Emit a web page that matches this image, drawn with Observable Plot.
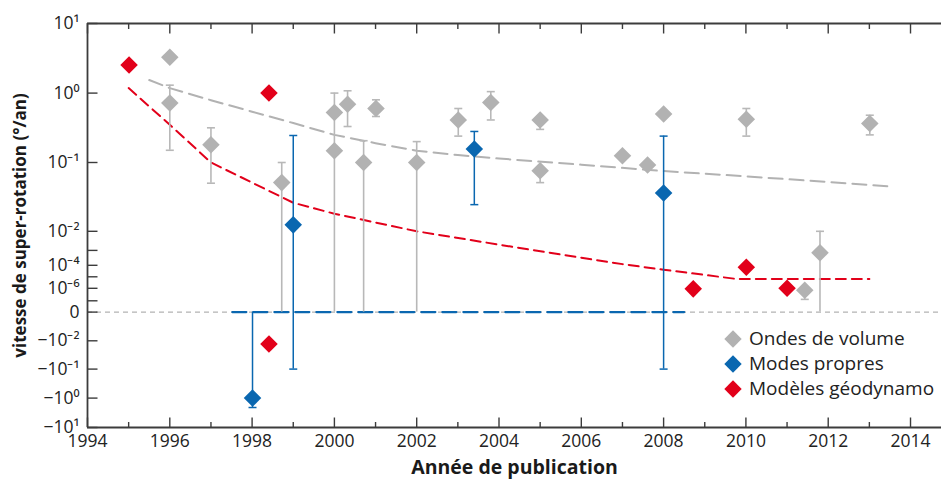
<!DOCTYPE html>
<html>
<head>
<meta charset="utf-8">
<script src="https://cdn.jsdelivr.net/npm/d3@7"></script>
<script src="https://cdn.jsdelivr.net/npm/@observablehq/plot@0.6"></script>
<style>
  body { margin: 0; background: #fff; font-family: "Open Sans", sans-serif; }
  #wrap { position: relative; width: 941px; height: 480px; }
  #legend { position: absolute; left: 723px; top: 326px; font-size: 19px; color: #222; line-height: 25px; }
  #legend .row { display: flex; align-items: center; height: 25px; white-space: nowrap; }
  #legend svg { margin-right: 6px; flex: none; }
</style>
</head>
<body>
<div id="wrap"><div id="legend"></div></div>
<script>
// ---------------- data ----------------
// Ondes de volume (body waves)
const ondesYear  = [1996.0, 1996.0, 1997.0, 1998.72, 2000.0, 2000.0, 2000.32, 2000.71, 2001.01, 2002.0, 2003.01, 2003.8, 2005.0, 2005.0, 2007.0, 2007.61, 2008.0, 2010.01, 2011.43, 2011.8, 2013.01];
const ondesValue = [3.27,   0.72,   0.18,   0.051,   0.525,  0.148,  0.69,    0.10,    0.60,    0.10,   0.41,    0.73,   0.41,   0.076,  0.125,  0.092,   0.50,   0.42,    7e-7,    6.9e-4, 0.365];
const ondesLow   = [null,   0.15,   0.05,   0,       null,   0,      0.33,    0,       0.46,    0,      0.24,    0.41,   0.30,   0.051,  null,   null,    null,   0.24,    1.3e-7,  0,      0.25];
const ondesHigh  = [null,   1.30,   0.316,  0.10,    null,   1.0,    1.08,    0.206,   0.80,    0.20,   0.60,    1.05,   0.41,   0.076,  null,   null,    null,   0.60,    7e-7,    0.01,   0.48];

// Modes propres (normal modes)
const modesYear  = [1998.01, 1999.0, 2003.4, 2008.0];
const modesValue = [-1.0,    0.0124, 0.156,  0.036];
const modesLow   = [-2.09,   -0.1,   0.0244, -0.1];
const modesHigh  = [0,       0.245,  0.28,   0.24];
const modesZeroYears = [1997.52, 2008.5];

// Modèles géodynamo
const geoYear  = [1995.01, 1998.41, 1998.41, 2008.72, 2010.01, 2011.0];
const geoValue = [2.54,    1.0,     -0.013,  9e-7,    6.8e-5,  1e-6];

// trend curves (dashed)
const ondesTrendYear  = [1995.5, 1996, 1997, 1998, 1999, 2000, 2001, 2002, 2003, 2004, 2006, 2008, 2010, 2012, 2013.5];
const ondesTrendValue = [1.54, 1.18, 0.79, 0.54, 0.37, 0.25, 0.19, 0.148, 0.128, 0.114, 0.093, 0.075, 0.063, 0.052, 0.045];
const geoTrendYear  = [1995, 1996, 1997, 1998, 1999, 2000, 2002, 2004, 2006, 2007, 2008, 2009.8, 2013];
const geoTrendValue = [1.18, 0.35, 0.10, 0.051, 0.026, 0.018, 0.01, 2.0e-3, 3.2e-4, 1.2e-4, 4.1e-5, 6.3e-6, 6.3e-6];

// axis ticks
const xMajorTicks = [1994, 1996, 1998, 2000, 2002, 2004, 2006, 2008, 2010, 2012, 2014];
const xMinorTicks = [1995, 1997, 1999, 2001, 2003, 2005, 2007, 2009, 2011, 2013];
const yTickValues = [10, 1, 0.1, 0.01, 1e-4, 1e-6, 0, -0.01, -0.1, -1, -10];
const yTickLabels = ["10¹", "10⁰", "10⁻¹", "10⁻²", "10⁻⁴", "10⁻⁶", "0", "−10⁻²", "−10⁻¹", "−10⁰", "−10¹"];
const yExtraTicks = [1e-3, 1e-5, 1e-7];

const seriesNames = ["Ondes de volume", "Modes propres", "Modèles géodynamo"];
const seriesColors = ["#b2b2b2", "#0a67b0", "#e2001a"];

// ---------------- broken symmetric-log y scale ----------------
// break values of the axis and their relative heights (scale definition)
const yBreakValues  = [-10, -1, -0.1, -0.01, 0, 1e-7, 1e-6, 1e-5, 1e-4, 1e-3, 1e-2, 0.1, 1, 10];
const yBreakHeights = [0, 29.4, 58.4, 86.7, 115.4, 126.7, 139.2, 150.7, 162.2, 177.1, 196.2, 265, 334.4, 404];
function warp(v) {
  const b = yBreakValues, h = yBreakHeights;
  if (v <= b[0]) return h[0];
  if (v >= b[b.length - 1]) return h[h.length - 1];
  for (let i = 0; i < b.length - 1; i++) {
    const a = b[i], c = b[i + 1];
    if (v >= a && v <= c) {
      let t;
      if (a > 0) t = (Math.log10(v) - Math.log10(a)) / (Math.log10(c) - Math.log10(a));
      else if (c < 0) t = (Math.log10(-v) - Math.log10(-a)) / (Math.log10(-c) - Math.log10(-a));
      else t = (v - a) / (c - a);
      return h[i] + t * (h[i + 1] - h[i]);
    }
  }
}

// ---------------- tables ----------------
const ondes = ondesYear.map((x, i) => ({x, v: ondesValue[i], lo: ondesLow[i], hi: ondesHigh[i]}));
const modes = modesYear.map((x, i) => ({x, v: modesValue[i], lo: modesLow[i], hi: modesHigh[i]}));
const geo = geoYear.map((x, i) => ({x, v: geoValue[i]}));
const ondesTrend = ondesTrendYear.map((x, i) => ({x, v: ondesTrendValue[i]}));
const geoTrend = geoTrendYear.map((x, i) => ({x, v: geoTrendValue[i]}));
const modesZero = modesZeroYears.map(x => ({x, v: 0}));

function caps(rows) {
  const out = [];
  for (const d of rows) {
    if (d.lo == null) continue;
    if (d.lo !== 0) out.push({x: d.x, v: d.lo});
    if (d.hi !== 0) out.push({x: d.x, v: d.hi});
  }
  return out;
}
const bars = rows => rows.filter(d => d.lo != null);

// custom line symbols for ticks and caps
const lineSymbol = (x1, y1, x2, y2) => ({draw(ctx) { ctx.moveTo(x1, y1); ctx.lineTo(x2, y2); }});
const capSym = lineSymbol(-4, 0, 4, 0);
const tickRight = lineSymbol(0, 0, 10, 0);
const tickDownLong = lineSymbol(0, 0, 0, 10);
const tickDownShort = lineSymbol(0, 0, 0, 5.5);
const tickUpLong = lineSymbol(0, 0, 0, -10);
const tickUpShort = lineSymbol(0, 0, 0, -5.5);

const labelOf = new Map(yTickValues.map((v, i) => [warp(v), yTickLabels[i]]));
const axisColor = "#3c3c3c";
const [cGray, cBlue, cRed] = seriesColors;

const chart = Plot.plot({
  width: 941,
  height: 480,
  marginLeft: 87,
  marginRight: 0,
  marginTop: 23,
  marginBottom: 53,
  style: {fontFamily: "Open Sans, sans-serif", fontSize: "17.5px", color: "#222", background: "#fff"},
  x: {domain: [1994, 2014.753]},
  y: {domain: [0, 404]},
  marks: [
    // zero reference line
    Plot.ruleY([warp(0)], {stroke: "#b3b3b3", strokeWidth: 1.2, strokeDasharray: "5,4"}),
    // trend curves
    Plot.line(ondesTrend, {x: "x", y: d => warp(d.v), stroke: cGray, strokeWidth: 2, strokeDasharray: "14,7"}),
    Plot.line(geoTrend, {x: "x", y: d => warp(d.v), stroke: cRed, strokeWidth: 2, strokeDasharray: "10,6"}),
    Plot.line(modesZero, {x: "x", y: d => warp(d.v), stroke: cBlue, strokeWidth: 2.2, strokeDasharray: "14,7"}),
    // error bars
    Plot.ruleX(bars(ondes), {x: "x", y1: d => warp(d.lo), y2: d => warp(d.hi), stroke: "#b8b8b8", strokeWidth: 1.6}),
    Plot.dot(caps(ondes), {x: "x", y: d => warp(d.v), symbol: capSym, fill: "none", stroke: "#b8b8b8", strokeWidth: 1.6}),
    Plot.ruleX(bars(modes), {x: "x", y1: d => warp(d.lo), y2: d => warp(d.hi), stroke: cBlue, strokeWidth: 1.5}),
    Plot.dot(caps(modes), {x: "x", y: d => warp(d.v), symbol: capSym, fill: "none", stroke: cBlue, strokeWidth: 1.5}),
    // points
    Plot.dot(ondes, {x: "x", y: d => warp(d.v), symbol: "diamond2", r: 7.9, fill: cGray}),
    Plot.dot(modes, {x: "x", y: d => warp(d.v), symbol: "diamond2", r: 7.9, fill: cBlue}),
    Plot.dot(geo, {x: "x", y: d => warp(d.v), symbol: "diamond2", r: 7.9, fill: cRed}),
    // frame lines (left, top, bottom)
    Plot.ruleX([1994], {stroke: axisColor, strokeWidth: 1.8}),
    Plot.ruleY([warp(10), warp(-10)], {stroke: axisColor, strokeWidth: 1.8}),
    // inward ticks
    Plot.dot(yTickValues.concat(yExtraTicks), {y: d => warp(d), frameAnchor: "left", symbol: tickRight, fill: "none", stroke: axisColor, strokeWidth: 1.4}),
    Plot.dot(xMajorTicks, {x: d => d, frameAnchor: "top", symbol: tickDownLong, fill: "none", stroke: axisColor, strokeWidth: 1.4}),
    Plot.dot(xMinorTicks, {x: d => d, frameAnchor: "top", symbol: tickDownShort, fill: "none", stroke: axisColor, strokeWidth: 1.4}),
    Plot.dot(xMajorTicks, {x: d => d, frameAnchor: "bottom", symbol: tickUpLong, fill: "none", stroke: axisColor, strokeWidth: 1.4}),
    Plot.dot(xMinorTicks, {x: d => d, frameAnchor: "bottom", symbol: tickUpShort, fill: "none", stroke: axisColor, strokeWidth: 1.4}),
    // tick labels
    Plot.axisX({ticks: xMajorTicks, tickSize: 0, tickPadding: 7, tickFormat: d => String(d), label: null, fontSize: 17.5}),
    Plot.axisY({ticks: yTickValues.map(warp), tickSize: 0, tickPadding: 8, tickFormat: d => labelOf.get(d), label: null, fontSize: 17.5}),
    // axis titles
    Plot.text(["vitesse de super-rotation (°/an)"], {frameAnchor: "left", textAnchor: "middle", lineAnchor: "middle", rotate: -90, dx: -67, fontWeight: "bold", fontSize: 17, fill: "#1a1a1a"}),
    Plot.text(["Année de publication"], {frameAnchor: "bottom", textAnchor: "middle", lineAnchor: "middle", dy: 40, fontWeight: "bold", fontSize: 19.5, fill: "#1a1a1a"})
  ]
});

const wrap = document.getElementById("wrap");
wrap.insertBefore(chart, wrap.firstChild);

// legend
const legend = document.getElementById("legend");
seriesNames.forEach((name, i) => {
  const row = document.createElement("div");
  row.className = "row";
  row.innerHTML = `<svg width="20" height="20" viewBox="0 0 20 20"><polygon points="10,1.3 18.7,10 10,18.7 1.3,10" fill="${seriesColors[i]}"/></svg><span>${name}</span>`;
  legend.appendChild(row);
});
</script>
</body>
</html>
